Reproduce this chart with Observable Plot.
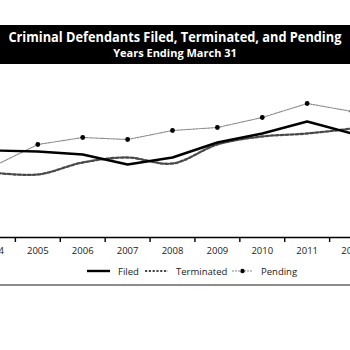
<!DOCTYPE html>
<html>
<head>
<meta charset="utf-8">
<script src="https://cdn.jsdelivr.net/npm/d3@7"></script>
<script src="https://cdn.jsdelivr.net/npm/@observablehq/plot@0.6"></script>
<style>
  html, body { margin: 0; padding: 0; background: #fff; overflow: hidden; }
  body { width: 350px; height: 350px; position: relative; font-family: "Open Sans", sans-serif; }
  #title { position: absolute; left: 0; top: 25px; width: 350px; height: 39px; background: #000; color: #fff; text-align: center; font-weight: bold; }
  #t1 { position: absolute; left: 0; width: 350px; top: 3px; font-size: 14.5px; line-height: 18px; white-space: nowrap; display: flex; justify-content: center; }
  #t1 span { display: block; flex: none; transform-origin: 50% 50%; }
  #t2 { position: absolute; left: 0; width: 350px; top: 20px; font-size: 11px; line-height: 15px; white-space: nowrap; }
  #chart { position: absolute; left: 0; top: 64px; width: 350px; }
  #chart svg { overflow: hidden; display: block; }
  #legend { position: absolute; left: 0; top: 262px; width: 350px; height: 22px; border-bottom: 2px solid #8c8c8c; font-size: 9.5px; color: #222; }
  .li { position: absolute; top: 2px; height: 14px; display: flex; align-items: center; }
  .li svg { display: block; margin-right: 8px; }
</style>
</head>
<body>
<div id="title"><div id="t1"><span id="t1s">Criminal Defendants Filed, Terminated, and Pending</span></div><div id="t2">Years Ending March 31</div></div>
<div id="chart"></div>
<div id="legend"></div>
<script>
const years = [2004, 2005, 2006, 2007, 2008, 2009, 2010, 2011, 2012];
const filed = [87, 86, 83, 73, 80, 95, 104, 116, 104];
const terminated = [65, 63, 75, 80, 74, 93, 101, 104, 109];
const pending = [71, 93, 100, 98, 107, 110, 120, 134, 126];
const seriesNames = ["Filed", "Terminated", "Pending"];

// fit title width
const t1s = document.getElementById("t1s");
const w = t1s.getBoundingClientRect().width;
if (w > 0) t1s.style.transform = `scaleX(${333 / w})`;

const toRows = (vals, s) => years.map((y, i) => ({year: y, value: vals[i], series: s}));
const filedRows = toRows(filed, "Filed");
const termRows = toRows(terminated, "Terminated");
const pendRows = toRows(pending, "Pending");
const boundaries = years.map(y => y + 0.5);

const chart = Plot.plot({
  width: 350,
  height: 197,
  marginTop: 0,
  marginBottom: 24,
  marginLeft: 0,
  marginRight: 0,
  style: {fontFamily: "Open Sans", fontSize: "9.5px", color: "#222", background: "transparent"},
  x: {domain: [years[0] - 0.5, years[years.length - 1] + 0.5], range: [-30, 374], label: null},
  y: {domain: [0, 173], axis: null},
  marks: [
    Plot.line(pendRows, {x: "year", y: "value", stroke: "#8a8a8a", strokeWidth: 1.1, strokeDasharray: "2,1"}),
    Plot.dot(pendRows, {x: "year", y: "value", r: 2.4, fill: "#000", stroke: "none"}),
    Plot.line(termRows, {x: "year", y: "value", stroke: "#4a4a4a", strokeWidth: 2.3, strokeDasharray: "3,2", curve: "catmull-rom"}),
    Plot.line(filedRows, {x: "year", y: "value", stroke: "#000", strokeWidth: 2.4}),
    Plot.ruleY([0], {stroke: "#000", strokeWidth: 1.6}),
    Plot.axisX(boundaries, {tickSize: 5, tickFormat: () => "", stroke: "#000", strokeWidth: 1.4, label: null}),
    Plot.axisX(years, {tickSize: 0, tickPadding: 10, tickFormat: d => String(d), fill: "#222", fontSize: 9.5, label: null})
  ]
});
document.getElementById("chart").appendChild(chart);

// Legend
const legend = document.getElementById("legend");
const items = [
  {name: seriesNames[0], left: 87, w: 23, stroke: "#000", sw: 2.4, dash: null, dot: false},
  {name: seriesNames[1], left: 145, w: 23, stroke: "#4a4a4a", sw: 2, dash: "2.2,1.6", dot: false},
  {name: seriesNames[2], left: 232, w: 21, stroke: "#8a8a8a", sw: 1.1, dash: "2,1", dot: true}
];
for (const it of items) {
  const div = document.createElement("div");
  div.className = "li";
  div.style.left = it.left + "px";
  const ns = "http://www.w3.org/2000/svg";
  const svg = document.createElementNS(ns, "svg");
  svg.setAttribute("width", it.w);
  svg.setAttribute("height", 10);
  const ln = document.createElementNS(ns, "line");
  ln.setAttribute("x1", 0); ln.setAttribute("x2", it.w);
  ln.setAttribute("y1", 5); ln.setAttribute("y2", 5);
  ln.setAttribute("stroke", it.stroke);
  ln.setAttribute("stroke-width", it.sw);
  if (it.dash) ln.setAttribute("stroke-dasharray", it.dash);
  svg.appendChild(ln);
  if (it.dot) {
    const c = document.createElementNS(ns, "circle");
    c.setAttribute("cx", it.w / 2); c.setAttribute("cy", 5); c.setAttribute("r", 2.2);
    c.setAttribute("fill", "#000");
    svg.appendChild(c);
  }
  div.appendChild(svg);
  const sp = document.createElement("span");
  sp.textContent = it.name;
  div.appendChild(sp);
  legend.appendChild(div);
}
</script>
</body>
</html>
